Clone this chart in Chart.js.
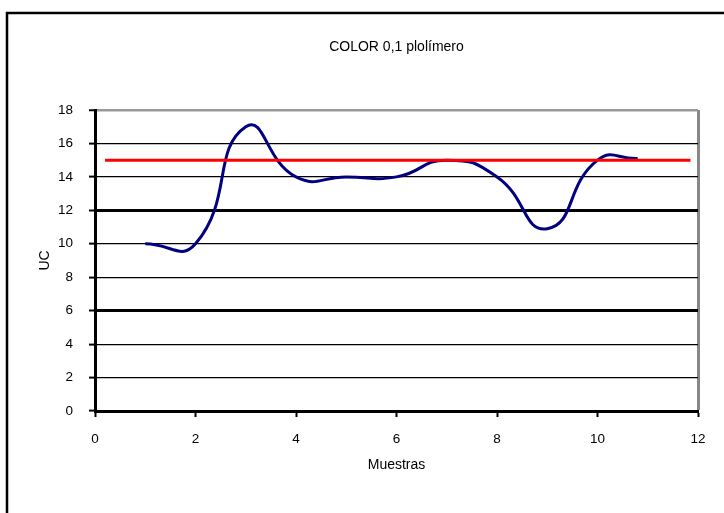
<!DOCTYPE html>
<html>
<head>
<meta charset="utf-8">
<script src="https://cdn.jsdelivr.net/npm/chart.js@4"></script>
<style>
  html, body { margin: 0; padding: 0; background: #fff; }
  #wrap { width: 724px; height: 513px; }
</style>
</head>
<body>
<div id="wrap"><canvas id="myChart" width="724" height="513"></canvas></div>
<script>
// muestras (x) and UC values
const muestras = [1, 2, 3, 4, 5, 6, 7, 8, 9, 10, 10.8];
const ucValues = [10, 10, 17, 14, 14, 14, 15, 14, 10.9, 15, 15.1];
// red limit line
const limitX = [0.2, 11.85];
const limitY = [15, 15];
const xTicks = [0, 2, 4, 6, 8, 10, 12];
const yTicks = [0, 2, 4, 6, 8, 10, 12, 14, 16, 18];

const font = { family: "'Liberation Sans', Arial, sans-serif", size: 13.5 };

const frame = {
  id: "frame",
  beforeDraw(chart) {
    const c = chart.ctx;
    c.save();
    c.strokeStyle = "#000";
    c.lineWidth = 2.5;
    c.strokeRect(7, 13, 800, 600);
    c.restore();
  },
};

const ctx = document.getElementById("myChart");

new Chart(ctx, {
  type: "scatter",
  data: {
    datasets: [
      {
        label: "UC",
        data: muestras.map((x, i) => ({ x: x, y: ucValues[i] })),
        showLine: true,
        borderColor: "#000080",
        borderWidth: 3,
        pointRadius: 0,
        tension: 0.52,
        order: 2,
      },
      {
        label: "Límite",
        data: limitX.map((x, i) => ({ x: x, y: limitY[i] })),
        showLine: true,
        borderColor: "#ff0000",
        borderWidth: 3,
        pointRadius: 0,
        order: 1,
      },
    ],
  },
  options: {
    responsive: false,
    animation: false,
    layout: { padding: { left: 0, right: 26, top: 0, bottom: 0 } },
    plugins: {
      legend: { display: false },
      tooltip: { enabled: false },
      title: {
        display: true,
        fullSize: false,
        text: "COLOR 0,1 plolímero",
        color: "#000",
        font: { family: font.family, size: 14, weight: "normal" },
        padding: { top: 39, bottom: 54.2 },
      },
    },
    scales: {
      x: {
        type: "linear",
        min: 0,
        max: 12,
        afterBuildTicks: (s) => { s.ticks = xTicks.map((v) => ({ value: v })); },
        afterFit: (s) => { s.height = 102; },
        ticks: { color: "#000", font: font, padding: 14, maxRotation: 0 },
        grid: {
          color: (c) => (c.tick && c.tick.value === 12 ? "#888" : "rgba(0,0,0,0)"),
          lineWidth: (c) => (c.tick && c.tick.value === 12 ? 3 : 1),
          tickColor: "#000",
          tickWidth: 2,
          tickLength: 6,
        },
        border: { display: true, color: "#000", width: 3 },
        title: {
          display: true,
          text: "Muestras",
          color: "#000",
          font: { family: font.family, size: 14 },
          padding: { top: 10, bottom: 39 },
        },
      },
      y: {
        type: "linear",
        min: 0,
        max: 18,
        afterBuildTicks: (s) => { s.ticks = yTicks.map((v) => ({ value: v })); },
        afterFit: (s) => { s.width = 95; },
        ticks: { color: "#000", font: font, padding: 16 },
        grid: {
          color: (c) => (c.tick && c.tick.value === 18 ? "#999" : "#000"),
          lineWidth: (c) => {
            const v = c.tick ? c.tick.value : null;
            if (v === 12 || v === 6) return 3;
            if (v === 18) return 2.5;
            return 1.2;
          },
          tickColor: "#000",
          tickWidth: 2,
          tickLength: 6,
        },
        border: { display: true, color: "#000", width: 3 },
        title: {
          display: true,
          text: "UC",
          color: "#000",
          font: { family: font.family, size: 14 },
          padding: { top: 37, bottom: 0 },
        },
      },
    },
  },
  plugins: [frame],
});
</script>
</body>
</html>
